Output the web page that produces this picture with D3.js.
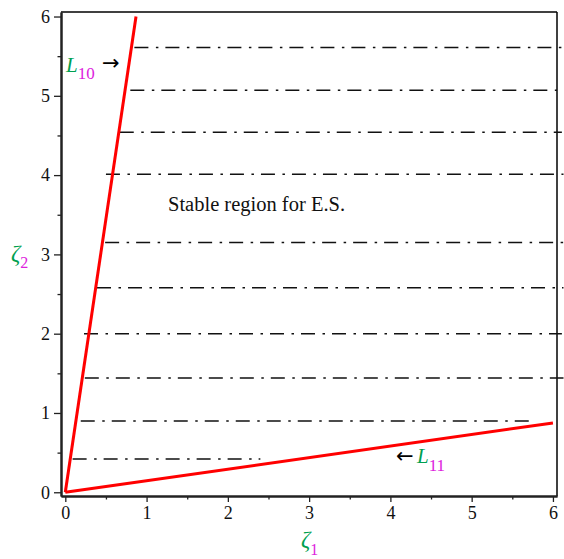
<!DOCTYPE html>
<html><head><meta charset="utf-8">
<script src="https://cdn.jsdelivr.net/npm/d3@7"></script>
<style>body{margin:0;background:#fff} svg{display:block}
text{font-family:'Liberation Serif','Times New Roman',serif}
.arrow{font-family:'DejaVu Sans',sans-serif}</style>
</head><body><svg id="c" width="564" height="559"></svg>
<script>
// ---- data ----
const xTicks = [0, 1, 2, 3, 4, 5, 6];
const xMinorTicks = [0.5, 1.5, 2.5, 3.5, 4.5, 5.5];
const yTicks = [0, 1, 2, 3, 4, 5, 6];
const yMinorTicks = [0.5, 1.5, 2.5, 3.5, 4.5, 5.5];
const L10x = [0, 0.87];
const L10y = [0, 6];
const L11x = [0, 6];
const L11y = [0, 0.875];
const levelY     = [5.61, 5.07, 4.54, 4.01, 3.15, 2.58, 2.00, 1.44, 0.90, 0.42];
const levelStart = [0.85, 0.80, 0.67, 0.50, 0.49, 0.39, 0.23, 0.24, 0.19, 0.09];
const levelEnd   = [6.13, 6.05, 6.11, 6.13, 6.13, 6.13, 6.11, 6.13, 5.72, 2.40];
const regionText = "Stable region for E.S.";

// ---- layout ----
const svg = d3.select("#c");
const serif = "'Liberation Serif','Times New Roman',serif";
const green = "#00a050", magenta = "#dd22dd";
const x = d3.scaleLinear().domain([-0.053, 6.05]).range([61, 557]);
const y = d3.scaleLinear().domain([-0.047, 6.057]).range([496, 12]);

// frame (top/right)
svg.append("line").attr("x1", 61).attr("x2", 557).attr("y1", 12).attr("y2", 12)
  .attr("stroke", "#000").attr("stroke-width", 1.5);
svg.append("line").attr("x1", 557).attr("x2", 557).attr("y1", 12).attr("y2", 496)
  .attr("stroke", "#000").attr("stroke-width", 1.5);

// dash-dot level lines
const line = d3.line().x(d => x(d[0])).y(d => y(d[1]));
levelY.forEach((v, i) => {
  svg.append("path").attr("d", line([[levelStart[i], v], [levelEnd[i], v]]))
    .attr("fill", "none").attr("stroke", "#111").attr("stroke-width", 1.5)
    .attr("stroke-dasharray", "14,7.5,2.5,7");
});

// red boundary lines
svg.append("path").attr("d", line(L10x.map((d, i) => [d, L10y[i]])))
  .attr("fill", "none").attr("stroke", "#ff0000").attr("stroke-width", 3);
svg.append("path").attr("d", line(L11x.map((d, i) => [d, L11y[i]])))
  .attr("fill", "none").attr("stroke", "#ff0000").attr("stroke-width", 3);

// axes
function styleAxis(g) {
  g.attr("font-family", serif).attr("font-size", 18);
  g.select(".domain").attr("stroke", "#222").attr("stroke-width", 2);
  g.selectAll(".tick line").attr("stroke", "#222").attr("stroke-width", 1.3);
  g.selectAll(".tick text").style("font-family", serif).style("font-size", "18px").attr("fill", "#111");
}
const gx = svg.append("g").attr("transform", "translate(0,496)")
  .call(d3.axisBottom(x).tickValues(xTicks).tickSize(6).tickSizeOuter(0).tickPadding(4).tickFormat(d3.format("d")));
styleAxis(gx);
const gxm = svg.append("g").attr("transform", "translate(0,496)")
  .call(d3.axisBottom(x).tickValues(xMinorTicks).tickSize(3.5).tickSizeOuter(0).tickFormat(""));
styleAxis(gxm);
const gy = svg.append("g").attr("transform", "translate(61,0)")
  .call(d3.axisLeft(y).tickValues(yTicks).tickSize(7).tickSizeOuter(0).tickPadding(4).tickFormat(d3.format("d")));
styleAxis(gy);
const gym = svg.append("g").attr("transform", "translate(61,0)")
  .call(d3.axisLeft(y).tickValues(yMinorTicks).tickSize(3.5).tickSizeOuter(0).tickFormat(""));
styleAxis(gym);

// axis labels
const zx = svg.append("text").attr("x", 301).attr("y", 547);
zx.append("tspan").style("font-style", "italic").style("font-size", "23px").attr("fill", green).text("ζ");
zx.append("tspan").style("font-size", "16px").attr("fill", magenta).attr("dy", 8).text("1");
const zy = svg.append("text").attr("x", 11).attr("y", 261);
zy.append("tspan").style("font-style", "italic").style("font-size", "23px").attr("fill", green).text("ζ");
zy.append("tspan").style("font-size", "16px").attr("fill", magenta).attr("dy", 7).text("2");

// region label
svg.append("text").attr("x", 168).attr("y", 211)
  .style("font-size", "20.5px").attr("fill", "#111").text(regionText);

// L10 label
const l10 = svg.append("text").attr("x", 66).attr("y", 72);
l10.append("tspan").style("font-style", "italic").style("font-size", "21px").attr("fill", green).text("L");
l10.append("tspan").style("font-size", "17px").attr("fill", magenta).attr("dy", 7).text("10");
svg.append("text").attr("class", "arrow").attr("x", 102).attr("y", 70)
  .style("font-size", "21px").attr("fill", "#000").text("→");

// L11 label
svg.append("text").attr("class", "arrow").attr("x", 396).attr("y", 463)
  .style("font-size", "21px").attr("fill", "#000").text("←");
const l11 = svg.append("text").attr("x", 417).attr("y", 463);
l11.append("tspan").style("font-style", "italic").style("font-size", "21px").attr("fill", green).text("L");
l11.append("tspan").style("font-size", "17px").attr("fill", magenta).attr("dy", 8).text("11");
</script></body></html>
